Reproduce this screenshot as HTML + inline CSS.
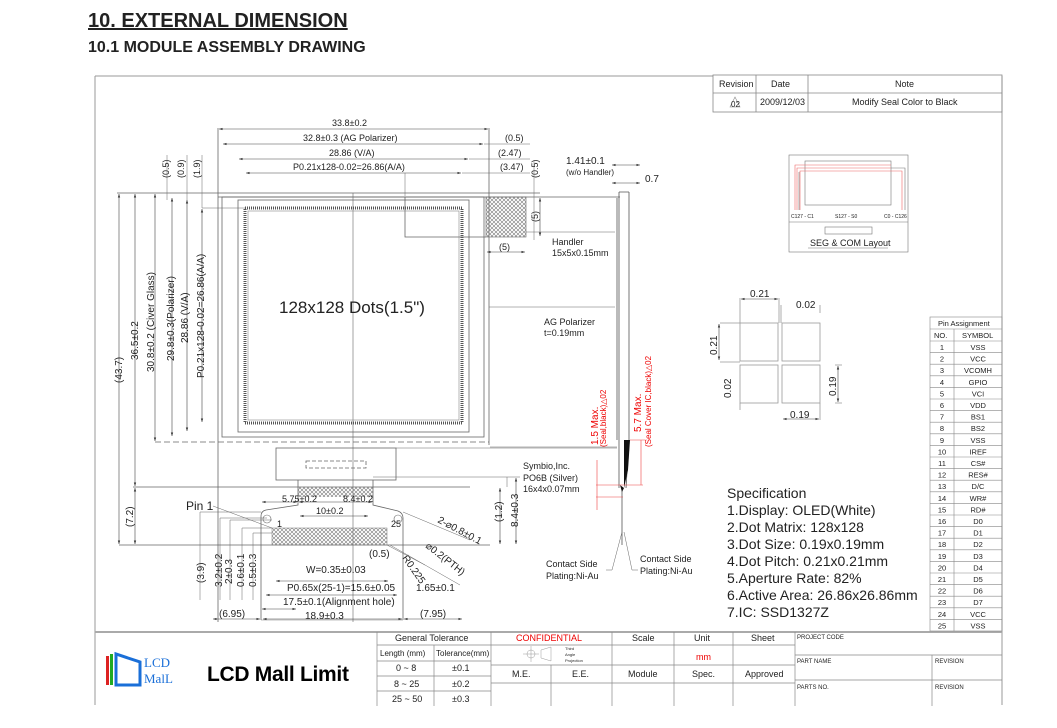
<!DOCTYPE html>
<html><head><meta charset="utf-8"><style>
body{margin:0;background:#fff;width:1057px;height:728px;overflow:hidden}
svg{display:block}
text{font-family:"Liberation Sans",Arial,sans-serif;fill:#222}
.s{font-size:9px}.m{font-size:10px}.t{font-size:8px}
.r{fill:#e00}
</style></head><body>
<svg width="1057" height="728" viewBox="0 0 1057 728" xmlns="http://www.w3.org/2000/svg">
<defs>
<pattern id="h" width="4" height="4" patternUnits="userSpaceOnUse"><path d="M0,0L4,4M4,0L0,4" stroke="#777" stroke-width="0.6"/></pattern>
<marker id="a" markerWidth="6" markerHeight="6" refX="6" refY="3" orient="auto-start-reverse"><path d="M0,1L6,3L0,5z" fill="#333"/></marker>
</defs>
<text x="88" y="27" style="font-size:20px;font-weight:bold;text-decoration:underline">10. EXTERNAL DIMENSION</text>
<text x="88" y="52" style="font-size:16px;font-weight:bold">10.1 MODULE ASSEMBLY DRAWING</text>

<g fill="none" stroke="#999" stroke-width="1">
<path d="M95,76H713M95,76V705M1002,76V705"/>
<path d="M95,632H1002" stroke-width="2" stroke="#aaa"/>
</g>
<!-- revision table -->
<g fill="none" stroke="#888" stroke-width="0.8">
<rect x="713" y="75" width="289" height="37"/>
<path d="M713,93H1002M756,75V112M808,75V112"/>
</g>
<text class="s" x="719" y="87">Revision</text><text class="s" x="771" y="87">Date</text><text class="s" x="895" y="87">Note</text>
<path d="M730,107L735,97L740,107z" fill="none" stroke="#888" stroke-width="0.6"/><text class="t" x="731" y="107">02</text>
<text class="s" x="760" y="105">2009/12/03</text><text class="s" x="852" y="105">Modify Seal Color to Black</text>

<!-- main panel -->
<g fill="none" stroke="#666" stroke-width="0.8">
<path d="M218,128V622M489,128V445"/>
<rect x="222" y="197" width="262" height="240"/>
<rect x="238" y="200" width="231" height="232"/>
<path d="M218,193H540M218,197H620" />
<path d="M155,442H489" stroke-dasharray="6,3"/>
<path d="M353,193V622" stroke-width="0.6"/>
<path d="M405,197V237H486"/>
<path d="M119,545H490M117,193H218M133,487H470"/>
</g>
<rect x="245" y="208" width="217" height="215" fill="none" stroke="#555" stroke-width="3" stroke-dasharray="1,1"/>
<rect x="248" y="211" width="211" height="209" fill="none" stroke="#888" stroke-width="0.6"/>
<rect x="486" y="197" width="40" height="40" fill="url(#h)" stroke="#666" stroke-width="0.6"/>
<text x="279" y="313" style="font-size:17px">128x128 Dots(1.5")</text>

<!-- top dims -->
<g stroke="#444" stroke-width="0.6" marker-start="url(#a)" marker-end="url(#a)">
<path d="M219,129H488"/><path d="M223,144H483"/><path d="M239,159H468"/><path d="M246,173H461"/>
<path d="M487,252H525"/><path d="M540,198V236"/>
</g>
<g stroke="#666" stroke-width="0.5"><path d="M484,144H530M469,159H530M462,173H530M405,173V196"/></g>
<text class="s" x="332" y="126">33.8±0.2</text>
<text class="s" x="303" y="141">32.8±0.3 (AG Polarizer)</text>
<text class="s" x="329" y="156">28.86 (V/A)</text>
<text class="s" x="293" y="170">P0.21x128-0.02=26.86(A/A)</text>
<text class="s" x="505" y="141">(0.5)</text><text class="s" x="498" y="156">(2.47)</text><text class="s" x="500" y="170">(3.47)</text>
<text class="s" x="499" y="250">(5)</text>
<text class="s" transform="translate(538,178) rotate(-90)">(0.5)</text>
<text class="s" transform="translate(538,222) rotate(-90)">(5)</text>
<text class="s" transform="translate(169,178) rotate(-90)">(0.5)</text>
<text class="s" transform="translate(184,178) rotate(-90)">(0.9)</text>
<text class="s" transform="translate(200,178) rotate(-90)">(1.9)</text>
<g stroke="#666" stroke-width="0.5"><path d="M167,155V200M187,155V200M202,155V208M202,208H245M534,160V240"/></g>

<!-- left vertical dims -->
<g stroke="#444" stroke-width="0.6" marker-start="url(#a)" marker-end="url(#a)">
<path d="M119,194V544"/><path d="M135,194V486"/><path d="M155,194V441"/><path d="M172,198V436"/><path d="M187,200V431"/><path d="M202,209V422"/><path d="M135,488V544"/>
</g>
<text class="m" transform="translate(122,383) rotate(-90)">(43.7)</text>
<text class="m" transform="translate(138,360) rotate(-90)">36.5±0.2</text>
<text class="m" transform="translate(154,372) rotate(-90)">30.8±0.2 (Civer Glass)</text>
<text class="m" transform="translate(174,361) rotate(-90)">29.8±0.3(Polarizer)</text>
<text class="m" transform="translate(188,343) rotate(-90)">28.86 (V/A)</text>
<text class="m" transform="translate(204,378) rotate(-90)">P0.21x128-0.02=26.86(A/A)</text>
<text class="m" transform="translate(133,527) rotate(-90)">(7.2)</text>

<!-- IC and FPC -->
<g fill="none" stroke="#666" stroke-width="0.8">
<rect x="276" y="448" width="120" height="32"/>
<rect x="306" y="461" width="60" height="7" stroke-dasharray="4,2"/>
<path d="M298,480V505L266,510Q261,511 261,516V620M373,480V505L398,511Q403,513 403,518V620"/>
<path d="M261,620H403" stroke-width="0.4"/>
</g>
<rect x="298" y="487" width="75" height="10" fill="url(#h)"/>
<circle cx="267" cy="519" r="4" fill="none" stroke="#666" stroke-width="0.6"/>
<circle cx="398" cy="519" r="4" fill="none" stroke="#666" stroke-width="0.6"/>
<rect x="272" y="528" width="115" height="17" fill="url(#h)" stroke="#777" stroke-width="0.5"/>
<text class="s" x="277" y="527">1</text><text class="s" x="391" y="527">25</text>
<text x="186" y="510" style="font-size:12px">Pin 1</text>
<path d="M213,506L272,528" stroke="#666" stroke-width="0.5"/>
<g stroke="#444" stroke-width="0.6" marker-start="url(#a)" marker-end="url(#a)">
<path d="M262,502H297"/><path d="M299,502H372"/><path d="M300,516H368"/>
<path d="M262,609H296"/><path d="M266,595H397"/><path d="M276,581H388"/><path d="M263,619H402"/><path d="M404,619H462"/><path d="M213,619H260"/>
<path d="M500,488V544"/><path d="M516,478V544"/>
</g>
<text class="s" x="282" y="502">5.75±0.2</text><text class="s" x="343" y="502">8.4±0.2</text><text class="s" x="316" y="514">10±0.2</text>
<text class="m" x="369" y="557">(0.5)</text>
<text class="m" x="306" y="573">W=0.35±0.03</text>
<text class="m" x="287" y="591">P0.65x(25-1)=15.6±0.05</text>
<text class="m" x="416" y="591">1.65±0.1</text>
<text class="m" x="283" y="605">17.5±0.1(Alignment hole)</text>
<text class="m" x="305" y="619">18.9±0.3</text>
<text class="m" x="219" y="617">(6.95)</text><text class="m" x="420" y="617">(7.95)</text>
<text class="m" transform="translate(437,522) rotate(28)">2-⌀0.8±0.1</text>
<text class="m" transform="translate(425,547) rotate(38)">⌀0.2(PTH)</text>
<text class="m" transform="translate(402,558) rotate(55)">R0.225</text>
<text class="m" transform="translate(204,583) rotate(-90)">(3.9)</text>
<text class="m" transform="translate(222,587) rotate(-90)">3.2±0.2</text>
<text class="m" transform="translate(232,584) rotate(-90)">2±0.3</text>
<text class="m" transform="translate(244,587) rotate(-90)">0.6±0.1</text>
<text class="m" transform="translate(256,587) rotate(-90)">0.5±0.3</text>
<g stroke="#666" stroke-width="0.5"><path d="M200,512V600M220,518V600M230,520V600M242,528V600M253,533V600M200,512H261M220,518H267M230,520H272M242,528H272M253,533H272M403,512L470,540M390,545L460,585M387,545L425,565"/></g>
<text class="m" transform="translate(502,522) rotate(-90)">(1.2)</text>
<text class="m" transform="translate(518,527) rotate(-90)">8.4±0.3</text>
<text class="s" x="523" y="469">Symbio,Inc.</text><text class="s" x="523" y="481">PO6B (Silver)</text><text class="s" x="523" y="492">16x4x0.07mm</text>
<path d="M396,448H617M373,477H520M507,477V487" stroke="#666" stroke-width="0.5" fill="none"/>

<!-- side view -->
<g fill="none" stroke="#555" stroke-width="0.8">
<path d="M617,198V440M619,192V488M629,192V440L626,488M622,488V545M619,192H629"/>
</g>
<path d="M624,440H630L628,470L624,488z" fill="#111"/>
<path d="M620,485L624,488L622,492z" fill="#111"/>
<g stroke="#444" stroke-width="0.6" marker-start="url(#a)" marker-end="url(#a)"><path d="M612,165H640"/><path d="M612,183H640"/></g>
<text class="m" x="566" y="164">1.41±0.1</text><text class="t" x="566" y="175">(w/o  Handler)</text>
<text class="m" x="645" y="182">0.7</text>
<path d="M526,232H615M489,307H615M490,447H617" stroke="#666" stroke-width="0.5"/>
<text class="s" x="552" y="245">Handler</text><text class="s" x="552" y="256">15x5x0.15mm</text>
<text class="s" x="544" y="325">AG Polarizer</text><text class="s" x="544" y="336">t=0.19mm</text>
<g stroke="#e44" stroke-width="0.6" fill="none"><path d="M596,485H643M596,497H623M597,460V510M641,440V485M630,440H645"/></g>
<text class="m r" transform="translate(598,445) rotate(-90)">1.5 Max.</text>
<text class="t r" transform="translate(606,447) rotate(-90)">(Seal,black)△02</text>
<text class="m r" transform="translate(641,432) rotate(-90)">5.7 Max.</text>
<text class="t r" transform="translate(651,447) rotate(-90)">(Seal Cover IC,black)△02</text>
<path d="M622,532L612,570H606M624,532L632,570H638" stroke="#666" stroke-width="0.5" fill="none"/>
<text class="s" x="546" y="567">Contact Side</text><text class="s" x="546" y="579">Plating:Ni-Au</text>
<text class="s" x="640" y="562">Contact Side</text><text class="s" x="640" y="574">Plating:Ni-Au</text>

<!-- SEG COM -->
<g fill="none" stroke="#777" stroke-width="0.6">
<rect x="789" y="155" width="119" height="97"/>
<path d="M789,222H908"/>
<rect x="805" y="161" width="86" height="44"/>
<path d="M797,210V168H891M800,210V171H902V210M795,210V165H891" stroke="#e66"/>
<path d="M799,210V172M905,210V168H891"/>
<rect x="825" y="227" width="47" height="7"/>
<path d="M808,248H888"/>
</g>
<text style="font-size:5px" x="791" y="218">C127 - C1</text><text style="font-size:5px" x="835" y="218">S127 - S0</text><text style="font-size:5px" x="884" y="218">C0 - C126</text>
<text class="s" x="810" y="246">SEG &amp; COM Layout</text>

<!-- pixels -->
<g fill="none" stroke="#999" stroke-width="0.8">
<rect x="740" y="323" width="38" height="38"/><rect x="782" y="323" width="38" height="38"/>
<rect x="740" y="365" width="38" height="38"/><rect x="782" y="365" width="38" height="38"/>
<path d="M740,298V323M779,298V323M781,305V323M820,305V313M720,323H740M720,362H740M740,403V410M820,403V420M835,365H842M835,403H842"/>
</g>
<g stroke="#444" stroke-width="0.6" marker-start="url(#a)" marker-end="url(#a)"><path d="M741,299H778"/><path d="M719,324V360"/><path d="M838,366V402"/><path d="M783,419H819"/></g>
<text class="m" x="750" y="297">0.21</text><text class="m" x="796" y="308">0.02</text>
<text class="m" transform="translate(717,355) rotate(-90)">0.21</text>
<text class="m" transform="translate(731,398) rotate(-90)">0.02</text>
<text class="m" transform="translate(836,396) rotate(-90)">0.19</text>
<text class="m" x="790" y="418">0.19</text>

<!-- pin table -->
<g fill="none" stroke="#888" stroke-width="0.6">
<rect x="930" y="317" width="72" height="314"/>
<path d="M954,329V631M930,329H1002M930,341H1002"/>
<path d="M930,352.6H1002M930,364.2H1002M930,375.8H1002M930,387.4H1002M930,399H1002M930,410.6H1002M930,422.2H1002M930,433.8H1002M930,445.4H1002M930,457H1002M930,468.6H1002M930,480.2H1002M930,491.8H1002M930,503.4H1002M930,515H1002M930,526.6H1002M930,538.2H1002M930,549.8H1002M930,561.4H1002M930,573H1002M930,584.6H1002M930,596.2H1002M930,607.8H1002M930,619.4H1002"/>
</g>
<g class="t" style="font-size:7.5px">
<text x="938" y="326">Pin Assignment</text><text x="934" y="338">NO.</text><text x="962" y="338">SYMBOL</text>
</g>
<g style="font-size:7.5px" text-anchor="middle">
<text x="942" y="350">1</text><text x="978" y="350">VSS</text>
<text x="942" y="361.6">2</text><text x="978" y="361.6">VCC</text>
<text x="942" y="373.2">3</text><text x="978" y="373.2">VCOMH</text>
<text x="942" y="384.8">4</text><text x="978" y="384.8">GPIO</text>
<text x="942" y="396.4">5</text><text x="978" y="396.4">VCI</text>
<text x="942" y="408">6</text><text x="978" y="408">VDD</text>
<text x="942" y="419.6">7</text><text x="978" y="419.6">BS1</text>
<text x="942" y="431.2">8</text><text x="978" y="431.2">BS2</text>
<text x="942" y="442.8">9</text><text x="978" y="442.8">VSS</text>
<text x="942" y="454.4">10</text><text x="978" y="454.4">IREF</text>
<text x="942" y="466">11</text><text x="978" y="466">CS#</text>
<text x="942" y="477.6">12</text><text x="978" y="477.6">RES#</text>
<text x="942" y="489.2">13</text><text x="978" y="489.2">D/C</text>
<text x="942" y="500.8">14</text><text x="978" y="500.8">WR#</text>
<text x="942" y="512.4">15</text><text x="978" y="512.4">RD#</text>
<text x="942" y="524">16</text><text x="978" y="524">D0</text>
<text x="942" y="535.6">17</text><text x="978" y="535.6">D1</text>
<text x="942" y="547.2">18</text><text x="978" y="547.2">D2</text>
<text x="942" y="558.8">19</text><text x="978" y="558.8">D3</text>
<text x="942" y="570.4">20</text><text x="978" y="570.4">D4</text>
<text x="942" y="582">21</text><text x="978" y="582">D5</text>
<text x="942" y="593.6">22</text><text x="978" y="593.6">D6</text>
<text x="942" y="605.2">23</text><text x="978" y="605.2">D7</text>
<text x="942" y="616.8">24</text><text x="978" y="616.8">VCC</text>
<text x="942" y="628.4">25</text><text x="978" y="628.4">VSS</text>
</g>

<!-- spec -->
<g style="font-size:14px">
<text x="727" y="498">Specification</text>
<text x="727" y="515">1.Display: OLED(White)</text>
<text x="727" y="532">2.Dot Matrix: 128x128</text>
<text x="727" y="549">3.Dot Size: 0.19x0.19mm</text>
<text x="727" y="566">4.Dot Pitch: 0.21x0.21mm</text>
<text x="727" y="583">5.Aperture Rate: 82%</text>
<text x="727" y="600">6.Active Area: 26.86x26.86mm</text>
<text x="727" y="617">7.IC: SSD1327Z</text>
</g>

<!-- title block -->
<g fill="none" stroke="#888" stroke-width="0.7">
<path d="M377,632V706M434,645V706M377,645H491M377,661H491M377,676H491M377,691H491"/>
<path d="M491,632V706M612,632V706M674,632V706M733,632V706M795,632V706M551,665V706"/>
<path d="M491,645H795M491,665H795M491,683H795"/>
<path d="M795,655H1002M795,680H1002M932,655V706"/>
</g>
<text class="s" x="395" y="641">General Tolerance</text>
<text class="t" x="380" y="656">Length (mm)</text><text class="t" x="436" y="656">Tolerance(mm)</text>
<text class="s" x="396" y="671">0 ~ 8</text><text class="s" x="452" y="671">±0.1</text>
<text class="s" x="394" y="687">8 ~ 25</text><text class="s" x="452" y="687">±0.2</text>
<text class="s" x="392" y="702">25 ~ 50</text><text class="s" x="452" y="702">±0.3</text>
<text class="s r" x="516" y="641">CONFIDENTIAL</text>
<text class="s" x="632" y="641">Scale</text><text class="s" x="694" y="641">Unit</text><text class="s" x="751" y="641">Sheet</text>
<text class="s r" x="696" y="660">mm</text>
<circle cx="531" cy="654" r="4" fill="none" stroke="#999" stroke-width="0.5"/>
<path d="M523,654H539M531,646V662M541,650L551,647V661L541,658z" fill="none" stroke="#999" stroke-width="0.5"/>
<text style="font-size:4px" x="565" y="650">Third</text><text style="font-size:4px" x="565" y="656">Angle</text><text style="font-size:4px" x="565" y="662">Projection</text>
<text class="s" x="512" y="677">M.E.</text><text class="s" x="572" y="677">E.E.</text><text class="s" x="628" y="677">Module</text><text class="s" x="692" y="677">Spec.</text><text class="s" x="745" y="677">Approved</text>
<text style="font-size:6px" x="797" y="639">PROJECT CODE</text>
<text style="font-size:6px" x="797" y="663">PART NAME</text><text style="font-size:6px" x="935" y="663">REVISION</text>
<text style="font-size:6px" x="797" y="689">PARTS NO.</text><text style="font-size:6px" x="935" y="689">REVISION</text>
<!-- logo -->
<rect x="106" y="656" width="3" height="29" fill="#d22"/>
<rect x="110" y="654" width="3" height="31" fill="#2a2"/>
<path d="M116,685V654L140,662V685z" fill="none" stroke="#1a6fd8" stroke-width="3"/>
<text x="144" y="667" style="font-family:'Liberation Serif',serif;font-size:13px;fill:#1a6fd8">LCD</text>
<text x="144" y="683" style="font-family:'Liberation Serif',serif;font-size:13px;fill:#1a6fd8">MalL</text>
<text x="207" y="681" style="font-size:21px;font-weight:bold;fill:#000;letter-spacing:-0.3px">LCD Mall Limit</text>
</svg>
</body></html>
